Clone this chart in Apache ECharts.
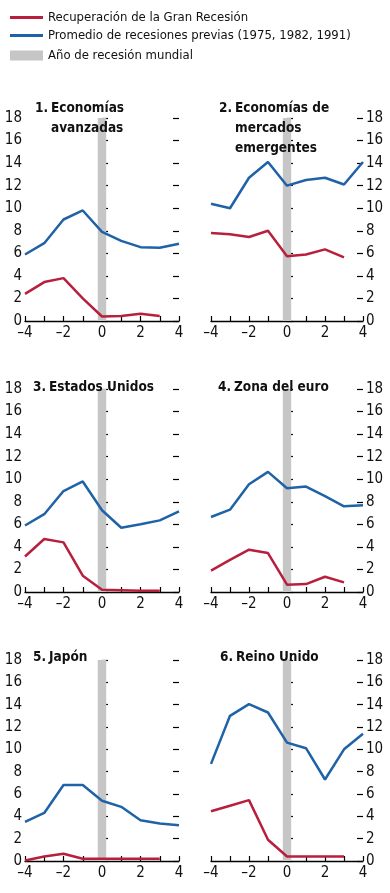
<!DOCTYPE html>
<html><head><meta charset="utf-8">
<script src="https://cdn.jsdelivr.net/npm/echarts@6/dist/echarts.min.js"></script>
<style>html,body{margin:0;padding:0;background:#fff}#c{width:390px;height:893px}</style>
</head><body><div id="c"></div>
<script>
const years = [-4, -3, -2, -1, 0, 1, 2, 3, 4];
const yTicks = [0, 2, 4, 6, 8, 10, 12, 14, 16, 18];
const legendNames = ['Recuperación de la Gran Recesión', 'Promedio de recesiones previas (1975, 1982, 1991)', 'Año de recesión mundial'];
const panelTitles = [
  ['1.', 'Economías', 'avanzadas'],
  ['2.', 'Economías de', 'mercados', 'emergentes'],
  ['3.', 'Estados Unidos'],
  ['4.', 'Zona del euro'],
  ['5.', 'Japón'],
  ['6.', 'Reino Unido']
];
// Gran Recesión (rojo) — t = -4..3
const redAdvanced = [2.4, 3.45, 3.8, 2.0, 0.4, 0.45, 0.65, 0.45];
const redEmerging = [7.8, 7.7, 7.45, 8.0, 5.75, 5.9, 6.35, 5.65];
const redUS = [3.15, 4.7, 4.4, 1.45, 0.2, 0.15, 0.1, 0.1];
const redEuro = [1.9, 2.85, 3.75, 3.45, 0.65, 0.7, 1.35, 0.85];
const redJapan = [0.05, 0.4, 0.65, 0.2, 0.2, 0.2, 0.2, 0.2];
const redUK = [4.45, 4.95, 5.45, 1.9, 0.4, 0.4, 0.4, 0.4];
// Promedio de recesiones previas (azul) — t = -4..4
const blueAdvanced = [5.9, 6.9, 9.0, 9.8, 7.9, 7.1, 6.55, 6.5, 6.85];
const blueEmerging = [10.4, 10.0, 12.7, 14.1, 12.0, 12.5, 12.7, 12.1, 14.1];
const blueUS = [5.9, 6.9, 8.95, 9.8, 7.25, 5.7, 6.0, 6.35, 7.15];
const blueEuro = [6.65, 7.3, 9.55, 10.65, 9.2, 9.35, 8.5, 7.6, 7.7];
const blueJapan = [3.5, 4.3, 6.8, 6.8, 5.4, 4.85, 3.65, 3.35, 3.2];
const blueUK = [8.7, 13.0, 14.05, 13.3, 10.6, 10.1, 7.3, 10.0, 11.4];
const recessionYear = [-0.22, 0.22];

const reds = [redAdvanced, redEmerging, redUS, redEuro, redJapan, redUK];
const blues = [blueAdvanced, blueEmerging, blueUS, blueEuro, blueJapan, blueUK];

const RED = '#b81f3d', BLUE = '#1f62a8', GRAY = '#c6c6c6';
const FONT = "'DejaVu Sans Condensed','Liberation Sans Narrow',sans-serif";

const gridPos = [
  {left: 25, top: 118, width: 154, height: 203},
  {left: 211, top: 118, width: 152, height: 203},
  {left: 25, top: 389, width: 154, height: 203},
  {left: 211, top: 389, width: 152, height: 203},
  {left: 25, top: 660, width: 154, height: 201},
  {left: 211, top: 660, width: 152, height: 201}
];
const titlePos = [
  {left: 35, top: 98}, {left: 219, top: 98},
  {left: 33, top: 377}, {left: 218, top: 377},
  {left: 33, top: 647}, {left: 220, top: 647}
];

const grids = [], xAxes = [], yAxes = [], series = [], titles = [];
gridPos.forEach((g, i) => {
  grids.push(Object.assign({containLabel: false}, g));
  xAxes.push({
    type: 'value', gridIndex: i, min: -4, max: 4, interval: 1,
    axisLine: {show: true, lineStyle: {color: '#000', width: 1.3}},
    axisTick: {show: true, inside: true, length: 5, lineStyle: {color: '#000', width: 1.2}},
    splitLine: {show: false},
    axisLabel: {
      fontFamily: FONT, fontSize: 15, color: '#111', margin: 5,
      formatter: v => (v % 2 === 0 ? String(v).replace('-', '–') : '')
    }
  });
  const leftLabels = i % 2 === 0;
  ['left', 'right'].forEach(pos => {
    const show = (pos === 'left') === leftLabels;
    yAxes.push({
      type: 'value', gridIndex: i, position: pos, min: yTicks[0], max: yTicks[yTicks.length - 1], interval: 2,
      axisLine: {show: false},
      axisTick: {show: true, inside: true, length: 6, lineStyle: {color: '#000', width: 1.2}},
      splitLine: {show: false},
      axisLabel: {show: show, fontFamily: FONT, fontSize: 15, color: '#111', margin: 3}
    });
  });
  const t = panelTitles[i];
  const lines = t.slice(1).map((s, k) => (k === 0 ? '{n|' + t[0] + '}' : '{n|}') + '{b|' + s + '}');
  const ts = {fontFamily: FONT, fontSize: 13.5, fontWeight: 'bold', color: '#111', lineHeight: 20};
  titles.push({
    left: titlePos[i].left, top: titlePos[i].top, padding: 0,
    text: lines.join('\n'),
    textStyle: Object.assign({}, ts, {rich: {n: Object.assign({width: 16}, ts), b: Object.assign({}, ts)}})
  });
  series.push({
    name: legendNames[2], type: 'line', xAxisIndex: i, yAxisIndex: 2 * i, data: [], z: 1,
    color: GRAY, itemStyle: {color: GRAY}, lineStyle: {color: GRAY},
    markArea: {
      silent: true, itemStyle: {color: GRAY, opacity: 1},
      data: [[{xAxis: recessionYear[0], yAxis: yTicks[0]}, {xAxis: recessionYear[1], yAxis: yTicks[yTicks.length - 1]}]]
    }
  });
  series.push({
    name: legendNames[0], type: 'line', xAxisIndex: i, yAxisIndex: 2 * i, z: 3,
    data: reds[i].map((v, k) => [years[k], v]),
    showSymbol: false, symbol: 'none', color: RED, lineStyle: {color: RED, width: 2.5}
  });
  series.push({
    name: legendNames[1], type: 'line', xAxisIndex: i, yAxisIndex: 2 * i, z: 4,
    data: blues[i].map((v, k) => [years[k], v]),
    showSymbol: false, symbol: 'none', color: BLUE, lineStyle: {color: BLUE, width: 2.5}
  });
});

const legendCommon = {
  orient: 'vertical', left: 5, itemWidth: 33, itemGap: 0, selectedMode: false,
  textStyle: {fontFamily: FONT, fontSize: 13, color: '#111'}
};
const option = {
  backgroundColor: '#fff',
  animation: false,
  title: titles,
  legend: [
    Object.assign({}, legendCommon, {top: 6, itemHeight: 3, data: [{name: legendNames[0], icon: 'rect'}]}),
    Object.assign({}, legendCommon, {top: 24, itemHeight: 3, data: [{name: legendNames[1], icon: 'rect'}]}),
    Object.assign({}, legendCommon, {top: 44, itemHeight: 10, data: [{name: legendNames[2], icon: 'rect'}]})
  ],
  grid: grids, xAxis: xAxes, yAxis: yAxes, series: series
};
const chart = echarts.init(document.getElementById('c'), null, {renderer: 'canvas'});
chart.setOption(option);
</script></body></html>
